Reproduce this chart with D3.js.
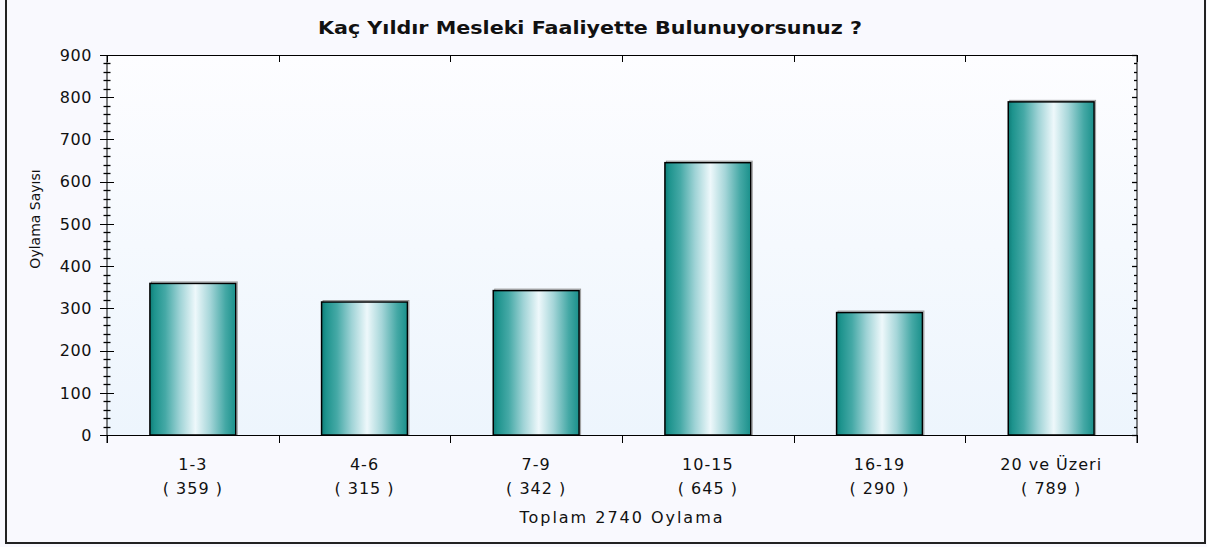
<!DOCTYPE html>
<html><head><meta charset="utf-8">
<script src="https://cdn.jsdelivr.net/npm/d3@7"></script>
<style>
body{margin:0;background:#f9f9fe;}
svg{display:block;}
text{font-family:"DejaVu Sans",Verdana,sans-serif;fill:#111;}
</style></head>
<body>
<svg id="chart" width="1207" height="547"></svg>
<script>
const titleText = "Kaç Yıldır Mesleki Faaliyette Bulunuyorsunuz ?";
const categories = ["1-3","4-6","7-9","10-15","16-19","20 ve Üzeri"];
const values = [359,315,342,645,290,789];
const yTicks = [0,100,200,300,400,500,600,700,800,900];
const yAxisTitle = "Oylama Sayısı";
const footerText = "Toplam 2740 Oylama";

const svg = d3.select("#chart");
const m = {left:107, right:1137, top:55, bottom:435};

const defs = svg.append("defs");
const bg = defs.append("linearGradient").attr("id","plotbg").attr("x1",0).attr("y1",0).attr("x2",0).attr("y2",1);
bg.append("stop").attr("offset","0%").attr("stop-color","#fdfdff");
bg.append("stop").attr("offset","100%").attr("stop-color","#edf5fd");
const bar = defs.append("linearGradient").attr("id","bargrad").attr("x1",0).attr("y1",0).attr("x2",1).attr("y2",0);
[[0,"#0f7c77"],[0.05,"#1d938d"],[0.18,"#45a9a6"],[0.35,"#9fd3d6"],[0.53,"#eef8fb"],[0.7,"#a6d6d9"],[0.88,"#44a8a5"],[1,"#1a908b"]]
  .forEach(([o,c])=>bar.append("stop").attr("offset",o).attr("stop-color",c));

// outer border
svg.append("rect").attr("x",6).attr("y",-5).attr("width",1199).attr("height",548)
  .attr("fill","#f9f9fe").attr("stroke","#222").attr("stroke-width",2);

const x = d3.scaleBand().domain(categories).range([m.left,m.right]).paddingInner(0).paddingOuter(0);
const y = d3.scaleLinear().domain([0,900]).range([m.bottom,m.top]);

svg.append("rect").attr("x",m.left).attr("y",m.top).attr("width",m.right-m.left).attr("height",m.bottom-m.top)
  .attr("fill","url(#plotbg)");

// title
svg.append("text").attr("x",590).attr("y",34).attr("text-anchor","middle")
  .attr("font-weight","bold").attr("font-size","17px")
  .attr("textLength",544).attr("lengthAdjust","spacingAndGlyphs").text(titleText);

// bars
const bw = x.bandwidth()*0.5;
const g = svg.append("g");
categories.forEach((c,i)=>{
  const cx = x(c)+x.bandwidth()/2;
  const x0 = cx-bw/2, y0 = y(values[i]);
  g.append("rect").attr("x",x0+1.5).attr("y",y0-1.5).attr("width",bw).attr("height",y(0)-y0+1.5)
    .attr("fill","none").attr("stroke","#9a9a9a").attr("stroke-width",1);
  g.append("rect").attr("x",x0).attr("y",y0).attr("width",bw).attr("height",y(0)-y0)
    .attr("fill","url(#bargrad)").attr("stroke","#000").attr("stroke-width",1.5);
});

// axes
const minor = d3.range(0,901,20);
const ax = svg.append("g").attr("stroke","#000").attr("fill","none");
ax.append("line").attr("x1",m.left).attr("x2",m.left).attr("y1",m.top).attr("y2",m.bottom+8);
ax.append("line").attr("x1",m.right).attr("x2",m.right).attr("y1",m.top).attr("y2",m.bottom+8);
ax.append("line").attr("x1",m.left-5).attr("x2",m.right).attr("y1",m.top+0.5).attr("y2",m.top+0.5);
ax.append("line").attr("x1",m.left-5).attr("x2",m.right).attr("y1",m.bottom+0.5).attr("y2",m.bottom+0.5);
minor.forEach(v=>{
  const maj = v%100===0;
  const yy = Math.round(y(v))+0.5;
  ax.append("line").attr("x1",m.left-(maj?7:3.5)).attr("x2",m.left+(maj?7:3.5)).attr("y1",yy).attr("y2",yy)
    .attr("stroke-width",maj?1:1.3);
  ax.append("line").attr("x1",m.right-(maj?5:3)).attr("x2",m.right).attr("y1",yy).attr("y2",yy)
    .attr("stroke-width",1.3);
});
const bounds = categories.map(c=>x(c)).concat([m.right]);
bounds.forEach(b=>{
  const bx = Math.round(b)+0.5;
  ax.append("line").attr("x1",bx).attr("x2",bx).attr("y1",m.bottom).attr("y2",m.bottom+8);
  ax.append("line").attr("x1",bx).attr("x2",bx).attr("y1",m.top).attr("y2",m.top+7);
});

// y tick labels
svg.append("g").selectAll("text").data(yTicks).join("text")
  .attr("x",92).attr("y",d=>y(d)).attr("dy","0.36em").attr("text-anchor","end")
  .attr("font-size","16px").attr("letter-spacing","0.6px").text(d=>d);

// y axis title
svg.append("text").attr("transform","translate(40,219) rotate(-90)").attr("text-anchor","middle")
  .attr("font-size","14px").text(yAxisTitle);

// x labels
const xl = svg.append("g");
categories.forEach((c,i)=>{
  const cx = x(c)+x.bandwidth()/2;
  xl.append("text").attr("x",cx).attr("y",470).attr("text-anchor","middle")
    .attr("font-size","16px").attr("letter-spacing","1px").text(c);
  xl.append("text").attr("x",cx).attr("y",494).attr("text-anchor","middle")
    .attr("font-size","16px").attr("letter-spacing","1px").text("( "+values[i]+" )");
});
svg.append("text").attr("x",621).attr("y",523).attr("text-anchor","middle")
  .attr("font-size","16px").attr("textLength",203).attr("lengthAdjust","spacing").text(footerText);
</script>
</body></html>
